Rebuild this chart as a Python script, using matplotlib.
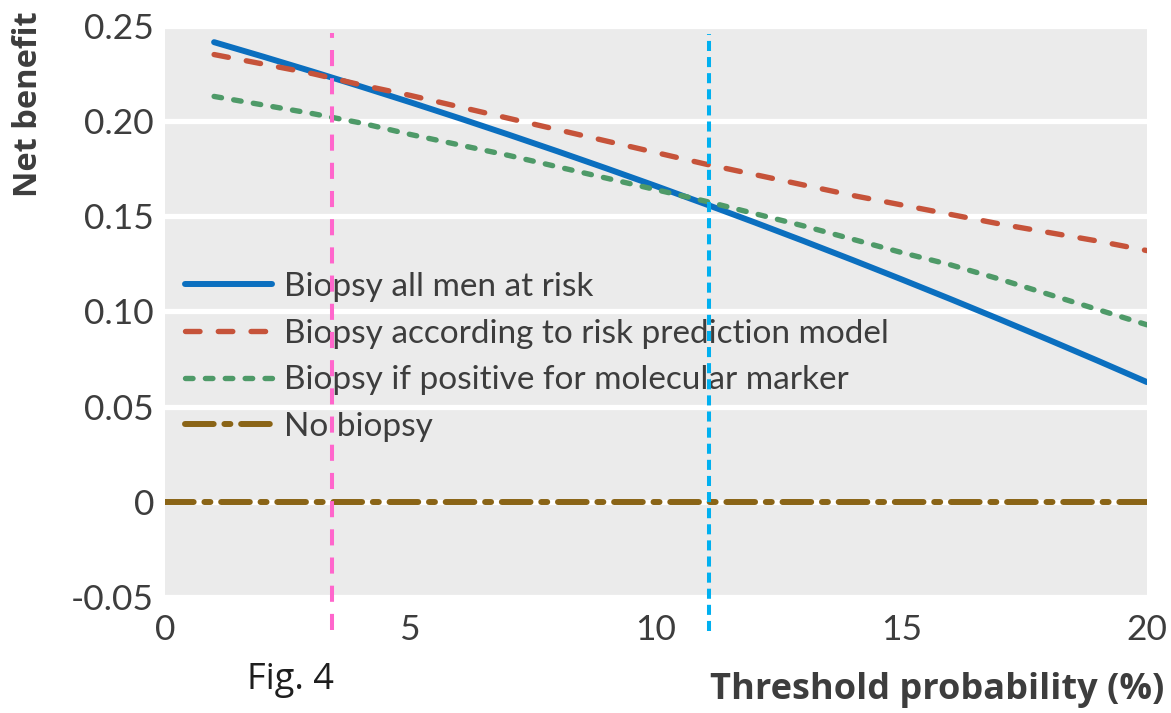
import matplotlib
matplotlib.use("Agg")
import matplotlib.pyplot as plt
import numpy as np

# ---------------- data ----------------
threshold = [1, 2, 3, 4, 5, 6, 7, 8, 9, 10, 11, 12, 13, 14, 15, 16, 17, 18, 19, 20]
all_men = [0.2415, 0.2339, 0.2261, 0.2181, 0.2099, 0.2015, 0.1929, 0.1841, 0.1751, 0.1659,
           0.1565, 0.1469, 0.1371, 0.1271, 0.1169, 0.1065, 0.0959, 0.0851, 0.0741, 0.0629]
risk_model = [0.235, 0.230, 0.225, 0.219, 0.2135, 0.2075, 0.2015, 0.1955, 0.1895, 0.1835,
              0.1775, 0.172, 0.1665, 0.161, 0.156, 0.151, 0.146, 0.1415, 0.137, 0.132]
marker = [0.213, 0.2085, 0.204, 0.199, 0.193, 0.1875, 0.182, 0.176, 0.170, 0.164,
          0.158, 0.1515, 0.145, 0.138, 0.131, 0.1245, 0.117, 0.109, 0.101, 0.093]
none_x = [0, 20]
none_y = [0, 0]
vlines = [3.4, 11.08]
labels = ["Biopsy all men at risk", "Biopsy according to risk prediction model",
          "Biopsy if positive for molecular marker", "No biopsy"]
xticks = [0, 5, 10, 15, 20]
yticks = [-0.05, 0, 0.05, 0.10, 0.15, 0.20, 0.25]
yticklabels = ["-0.05", "0", "0.05", "0.10", "0.15", "0.20", "0.25"]

# ---------------- style ----------------
W, H, DPI = 1171, 713, 100
plt.rcParams['font.family'] = ['Lato', 'DejaVu Sans']
TXT = '#3d3d3d'
BOLD = ['Open Sans', 'DejaVu Sans']

fig = plt.figure(figsize=(W / DPI, H / DPI), dpi=DPI)
ax = fig.add_axes([165 / W, 1 - 597 / H, (1147 - 165) / W, (597 - 26) / H])
ax.set_facecolor('#ebebeb')
for s in ax.spines.values():
    s.set_visible(False)

ax.set_xlim(0, 20)
ax.set_ylim(-0.05, 0.25)
ax.set_xticks(xticks)
ax.set_xticklabels([str(v) for v in xticks])
ax.set_yticks(yticks)
ax.set_yticklabels(yticklabels)
ax.set_xticks([5, 10, 15], minor=True)
ax.tick_params(axis='both', which='major', length=0, labelsize=25.5, labelcolor=TXT)
ax.tick_params(axis='x', which='major', pad=12)
ax.tick_params(axis='y', which='major', pad=8)
ax.tick_params(axis='x', which='minor', direction='in', length=6.5, width=3,
               color='white')
ax.grid(axis='y', color='white', linewidth=3.8)
ax.set_axisbelow(True)

lw = 4.3
l1, = ax.plot(threshold, all_men, color='#0b6fbf', lw=lw, solid_capstyle='round',
              label=labels[0], zorder=3)
l2, = ax.plot(threshold, risk_model, color='#c6533a', lw=lw * 0.9,
              dashes=(2.7, 3.4), dash_capstyle='round', label=labels[1], zorder=3)
l3, = ax.plot(threshold, marker, color='#4e9a68', lw=lw * 0.9,
              dashes=(1.4, 2.3), dash_capstyle='round', label=labels[2], zorder=3)
l4, = ax.plot(none_x, none_y, color='#8a6416', lw=lw,
              dashes=(4.8, 1.8, 1.0, 1.8), dash_capstyle='round', label=labels[3], zorder=3)

ax.plot([vlines[0], vlines[0]], [-0.0674, 0.2463], color='#ff66cc', lw=2.9,
        dashes=(4.0, 3.0), clip_on=False, zorder=6)
ax.plot([vlines[1], vlines[1]], [-0.0679, 0.2458], color='#00b0f0', lw=2.9,
        dashes=(2.5, 1.5), clip_on=False, zorder=6)

leg = ax.legend(handles=[l1, l2, l3, l4], loc='upper left',
                bbox_to_anchor=(185 / W, 1 - 272 / H), bbox_transform=fig.transFigure,
                frameon=False, fontsize=24, handlelength=2.6, handletextpad=0.36,
                labelspacing=0.5, borderaxespad=0, borderpad=0)
for t in leg.get_texts():
    t.set_color(TXT)
leg.set_zorder(4)

fig.text(29 / W, 1 - 104 / H, "Net benefit", rotation=90, ha='center', va='center',
         fontsize=23.5, fontweight='bold', color=TXT, family=BOLD)
fig.text(1164 / W, 1 - 690 / H, "Threshold probability (%)", ha='right', va='center',
         fontsize=26, fontweight='bold', color=TXT, family=BOLD)
fig.text(247 / W, 1 - 680 / H, "Fig. 4", ha='left', va='center',
         fontsize=26, color='#1e1e1e', family=['Open Sans', 'DejaVu Sans'])

fig.savefig('out.png', dpi=DPI)
